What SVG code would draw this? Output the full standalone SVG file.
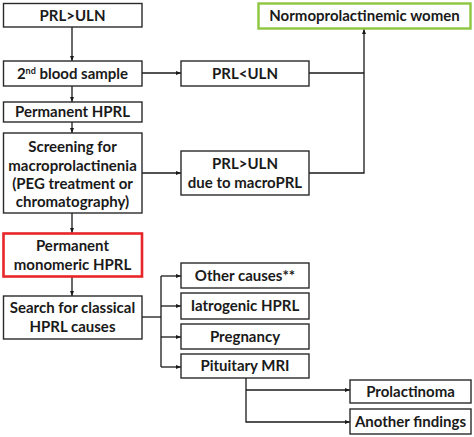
<svg xmlns="http://www.w3.org/2000/svg" width="474" height="437" viewBox="0 0 474 437">
<style>
.box{fill:#fff;stroke:#2a2a2a;stroke-width:1.4}
.red{fill:#fff;stroke:#e8262a;stroke-width:2.6}
.green{fill:#fff;stroke:#8cc63f;stroke-width:2.4}
.t{font-family:Lato,"Liberation Sans",sans-serif;font-weight:bold;font-size:15px;fill:#1a1a1a;text-anchor:middle}
.c{fill:none;stroke:#1a1a1a;stroke-width:1.3}
</style>
<defs>
<marker id="ah" viewBox="0 0 10 10" refX="10" refY="5" markerWidth="5" markerHeight="5" orient="auto" markerUnits="userSpaceOnUse">
<path d="M0,1 L10,5 L0,9 z" fill="#1a1a1a"/>
</marker>
</defs>
<rect width="474" height="437" fill="#fff"/>
<g id="connectors">
<path class="c" d="M72,27 V61" marker-end="url(#ah)"/>
<path class="c" d="M142,73 H181" marker-end="url(#ah)"/>
<path class="c" d="M72,86 V102" marker-end="url(#ah)"/>
<path class="c" d="M72,122 V133" marker-end="url(#ah)"/>
<path class="c" d="M142,173 H181" marker-end="url(#ah)"/>
<path class="c" d="M72,213 V233" marker-end="url(#ah)"/>
<path class="c" d="M72,277 V296" marker-end="url(#ah)"/>
<path class="c" d="M309,73 H364"/>
<path class="c" d="M309,173 H364 V29" marker-end="url(#ah)"/>
<path class="c" d="M142,317 H161"/>
<path class="c" d="M161,276 V367"/>
<path class="c" d="M161,276 H181" marker-end="url(#ah)"/>
<path class="c" d="M161,306 H181" marker-end="url(#ah)"/>
<path class="c" d="M161,337 H181" marker-end="url(#ah)"/>
<path class="c" d="M161,367 H181" marker-end="url(#ah)"/>
<path class="c" d="M246,378 V422 H350" marker-end="url(#ah)"/>
<path class="c" d="M246,390 H350" marker-end="url(#ah)"/>
</g>
<g id="n-prl-uln"><rect class="box" x="3.5" y="3.5" width="138.5" height="23.5"/><text class="t" x="72.5" y="20.5">PRL&gt;ULN</text></g>
<g id="n-normo"><rect class="green" x="258.5" y="3.5" width="212" height="25"/><text class="t" x="364.5" y="21">Normoprolactinemic women</text></g>
<g id="n-2nd"><rect class="box" x="3.5" y="61" width="138.5" height="25"/><text class="t" x="72.5" y="78.5">2<tspan font-size="9" dy="-5">nd</tspan><tspan dy="5"> blood sample</tspan></text></g>
<g id="n-prl-lt"><rect class="box" x="181" y="61" width="128" height="25"/><text class="t" x="245" y="78.5">PRL&lt;ULN</text></g>
<g id="n-perm"><rect class="box" x="3.5" y="102" width="138.5" height="20"/><text class="t" x="72.5" y="117">Permanent HPRL</text></g>
<g id="n-screen"><rect class="box" x="3.5" y="133" width="138.5" height="80"/>
<text class="t" x="72.5" y="152">Screening for</text>
<text class="t" x="72.5" y="171">macroprolactinenia</text>
<text class="t" x="72.5" y="189">(PEG treatment or</text>
<text class="t" x="72.5" y="207">chromatography)</text></g>
<g id="n-macro"><rect class="box" x="181" y="151" width="128" height="44"/>
<text class="t" x="245" y="169">PRL&gt;ULN</text>
<text class="t" x="245" y="188">due to macroPRL</text></g>
<g id="n-mono"><rect class="red" x="3.5" y="233.5" width="138.5" height="43"/>
<text class="t" x="72.5" y="251">Permanent</text>
<text class="t" x="72.5" y="270">monomeric HPRL</text></g>
<g id="n-search"><rect class="box" x="3.5" y="296" width="138.5" height="43"/>
<text class="t" x="72.5" y="313">Search for classical</text>
<text class="t" x="72.5" y="332">HPRL causes</text></g>
<g id="n-other"><rect class="box" x="181" y="263" width="128" height="25"/><text class="t" x="245" y="281">Other causes**</text></g>
<g id="n-iatro"><rect class="box" x="181" y="293" width="128" height="26"/><text class="t" x="245" y="311">Iatrogenic HPRL</text></g>
<g id="n-preg"><rect class="box" x="181" y="324" width="128" height="25"/><text class="t" x="245" y="342">Pregnancy</text></g>
<g id="n-mri"><rect class="box" x="181" y="354" width="128" height="24"/><text class="t" x="245" y="371">Pituitary MRI</text></g>
<g id="n-prolac"><rect class="box" x="350" y="380" width="121" height="23"/><text class="t" x="410.5" y="396.5">Prolactinoma</text></g>
<g id="n-another"><rect class="box" x="350" y="409" width="121" height="25"/><text class="t" x="410.5" y="427">Another findings</text></g>
</svg>
